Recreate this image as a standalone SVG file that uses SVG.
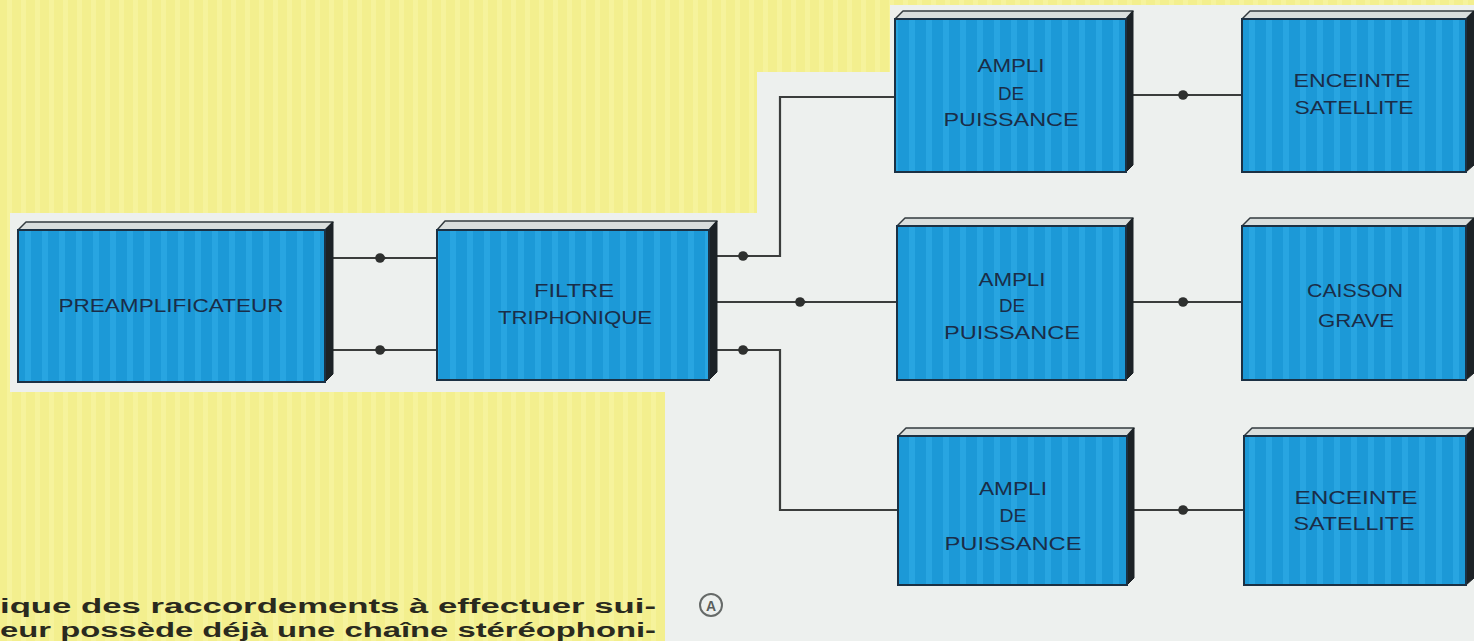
<svg xmlns="http://www.w3.org/2000/svg" width="1474" height="641" viewBox="0 0 1474 641">
  <defs>
    <pattern id="blue" patternUnits="userSpaceOnUse" width="17" height="10">
      <rect width="17" height="10" fill="#1c99d7"/>
      <rect x="8" width="6" height="10" fill="#28a5e1"/>
    </pattern>
    <pattern id="yel" patternUnits="userSpaceOnUse" width="14" height="10">
      <rect width="14" height="10" fill="#f3ef8e"/>
      <rect x="7" width="5" height="10" fill="#f6f39c"/>
    </pattern>
    <g id="ah"><circle r="4.8"/><path d="M0,-4.2 L7,0 L0,4.2 Z"/></g>
  </defs>
  <style>
    .front { fill: url(#blue); stroke: #1b3144; stroke-width: 2; }
    .top { fill: #d9dedd; stroke: #333b3f; stroke-width: 1.5; stroke-linejoin: round; }
    .side { fill: #1c2226; stroke: #1c2226; stroke-width: 1; }
    .lbl { font-family: "Liberation Sans", Arial, sans-serif; font-size: 19px; fill: #1a2d48; text-anchor: middle; }
    .wire { fill: none; stroke: #3b3d3c; stroke-width: 2.2; }
    .arr { fill: #2e302f; }
    .body { font-family: "Liberation Sans", Arial, sans-serif; font-size: 20px; font-weight: bold; fill: #2a2a1e; }
  </style>

  <!-- backgrounds -->
  <rect width="1474" height="641" fill="#edf0ee"/>
  <path d="M0,0 H1474 V5 H890 V72 H757 V213 H10 V392 H665 V641 H0 Z" fill="url(#yel)"/>

  <!-- connectors -->
  <g id="connectors">
    <path class="wire" d="M333,258 H437"/>
    <path class="wire" d="M333,350 H437"/>
    <path class="wire" d="M717,256 H780 V97 H895"/>
    <path class="wire" d="M717,302 H897"/>
    <path class="wire" d="M717,350 H780 V510 H898"/>
    <path class="wire" d="M1133,95 H1242"/>
    <path class="wire" d="M1133,302 H1242"/>
    <path class="wire" d="M1134,510 H1244"/>
    <g class="arr">
      <use href="#ah" x="380" y="258"/>
      <use href="#ah" x="380" y="350"/>
      <use href="#ah" x="743" y="256"/>
      <use href="#ah" x="800" y="302"/>
      <use href="#ah" x="743" y="350"/>
      <use href="#ah" x="1183" y="95"/>
      <use href="#ah" x="1183" y="302"/>
      <use href="#ah" x="1183" y="510"/>
    </g>
  </g>

  <g id="preampli">
    <path class="top" d="M18,230 L26,222 H333 L325,230 Z"/>
    <path class="side" d="M325,230 L333,222 V374 L325,382 Z"/>
    <rect class="front" x="18" y="230" width="307" height="152"/>
    <text class="lbl" x="171" y="312" textLength="225" lengthAdjust="spacingAndGlyphs">PREAMPLIFICATEUR</text>
  </g>

  <g id="filtre">
    <path class="top" d="M437,230 L445,221 H717 L709,230 Z"/>
    <path class="side" d="M709,230 L717,221 V372 L709,380 Z"/>
    <rect class="front" x="437" y="230" width="272" height="150"/>
    <text class="lbl" x="574" y="297" textLength="80" lengthAdjust="spacingAndGlyphs">FILTRE</text>
    <text class="lbl" x="575" y="324" textLength="154" lengthAdjust="spacingAndGlyphs">TRIPHONIQUE</text>
  </g>

  <g id="ampli1">
    <path class="top" d="M895,19 L903,11 H1133 L1126,19 Z"/>
    <path class="side" d="M1126,19 L1133,11 V165 L1126,172 Z"/>
    <rect class="front" x="895" y="19" width="231" height="153"/>
    <text class="lbl" x="1011" y="72" textLength="67" lengthAdjust="spacingAndGlyphs">AMPLI</text>
    <text class="lbl" x="1011" y="100" textLength="26" lengthAdjust="spacingAndGlyphs">DE</text>
    <text class="lbl" x="1011" y="126" textLength="135" lengthAdjust="spacingAndGlyphs">PUISSANCE</text>
  </g>

  <g id="ampli2">
    <path class="top" d="M897,226 L905,218 H1133 L1126,226 Z"/>
    <path class="side" d="M1126,226 L1133,218 V373 L1126,380 Z"/>
    <rect class="front" x="897" y="226" width="229" height="154"/>
    <text class="lbl" x="1012" y="286" textLength="67" lengthAdjust="spacingAndGlyphs">AMPLI</text>
    <text class="lbl" x="1012" y="312" textLength="26" lengthAdjust="spacingAndGlyphs">DE</text>
    <text class="lbl" x="1012" y="339" textLength="136" lengthAdjust="spacingAndGlyphs">PUISSANCE</text>
  </g>

  <g id="ampli3">
    <path class="top" d="M898,436 L906,428 H1134 L1127,436 Z"/>
    <path class="side" d="M1127,436 L1134,428 V578 L1127,585 Z"/>
    <rect class="front" x="898" y="436" width="229" height="149"/>
    <text class="lbl" x="1013" y="495" textLength="68" lengthAdjust="spacingAndGlyphs">AMPLI</text>
    <text class="lbl" x="1013" y="522" textLength="27" lengthAdjust="spacingAndGlyphs">DE</text>
    <text class="lbl" x="1013" y="550" textLength="137" lengthAdjust="spacingAndGlyphs">PUISSANCE</text>
  </g>

  <g id="enceinte1">
    <path class="top" d="M1242,19 L1250,11 H1474 L1466,19 Z"/>
    <path class="side" d="M1466,19 L1474,11 V165 L1466,172 Z"/>
    <rect class="front" x="1242" y="19" width="224" height="153"/>
    <text class="lbl" x="1352" y="87" textLength="117" lengthAdjust="spacingAndGlyphs">ENCEINTE</text>
    <text class="lbl" x="1354" y="114" textLength="119" lengthAdjust="spacingAndGlyphs">SATELLITE</text>
  </g>

  <g id="caisson">
    <path class="top" d="M1242,226 L1250,218 H1474 L1466,226 Z"/>
    <path class="side" d="M1466,226 L1474,218 V373 L1466,380 Z"/>
    <rect class="front" x="1242" y="226" width="224" height="154"/>
    <text class="lbl" x="1355" y="297" textLength="96" lengthAdjust="spacingAndGlyphs">CAISSON</text>
    <text class="lbl" x="1356" y="327" textLength="76" lengthAdjust="spacingAndGlyphs">GRAVE</text>
  </g>

  <g id="enceinte3">
    <path class="top" d="M1244,436 L1252,428 H1474 L1466,436 Z"/>
    <path class="side" d="M1466,436 L1474,428 V578 L1466,585 Z"/>
    <rect class="front" x="1244" y="436" width="222" height="149"/>
    <text class="lbl" x="1356" y="504" textLength="123" lengthAdjust="spacingAndGlyphs">ENCEINTE</text>
    <text class="lbl" x="1354" y="530" textLength="121" lengthAdjust="spacingAndGlyphs">SATELLITE</text>
  </g>

  <g id="label-a">
    <circle cx="711" cy="605" r="11" fill="none" stroke="#666a68" stroke-width="2"/>
    <text x="711" y="610.5" font-family="Liberation Sans, Arial, sans-serif" font-size="14" font-weight="bold" fill="#5a5e5c" text-anchor="middle">A</text>
  </g>

  <g id="caption">
    <text class="body" x="0" y="613" textLength="656" lengthAdjust="spacingAndGlyphs">ique des raccordements à effectuer sui-</text>
    <text class="body" x="0" y="637" textLength="656" lengthAdjust="spacingAndGlyphs">eur possède déjà une chaîne stéréophoni-</text>
  </g>
</svg>
